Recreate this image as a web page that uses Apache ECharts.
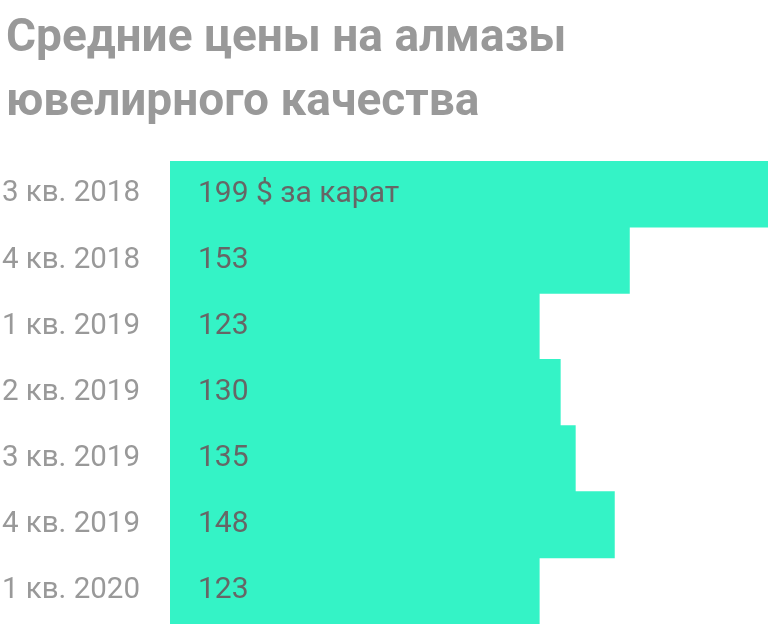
<!DOCTYPE html>
<html>
<head>
<meta charset="utf-8">
<script src="https://cdn.jsdelivr.net/npm/echarts@6/dist/echarts.min.js"></script>
<style>
  html, body { margin: 0; padding: 0; background: #fff; }
  #chart { width: 768px; height: 625px; }
</style>
</head>
<body>
<div id="chart"></div>
<script>
// данные
const quarters = ['3 кв. 2018', '4 кв. 2018', '1 кв. 2019', '2 кв. 2019', '3 кв. 2019', '4 кв. 2019', '1 кв. 2020'];
const prices = [199, 153, 123, 130, 135, 148, 123];
const unitSuffix = ' $ за карат';

const chart = echarts.init(document.getElementById('chart'));

const option = {
  animation: false,
  title: {
    text: 'Средние цены на алмазы\nювелирного качества',
    left: 1,
    top: 2,
    textStyle: {
      fontFamily: 'Roboto',
      fontSize: 46,
      fontWeight: 'bold',
      color: '#999999',
      lineHeight: 64
    }
  },
  grid: {
    left: 170,
    right: 0,
    top: 161,
    bottom: 1,
    outerBoundsMode: 'none',
    containLabel: false
  },
  xAxis: {
    type: 'value',
    min: 0,
    max: 199,
    show: false
  },
  yAxis: {
    type: 'category',
    data: quarters,
    inverse: true,
    axisLine: { show: false },
    axisTick: { show: false },
    axisLabel: {
      margin: 30,
      fontFamily: 'Roboto',
      fontSize: 29.5,
      color: '#999999'
    }
  },
  series: [
    {
      type: 'bar',
      data: prices,
      barWidth: 67,
      itemStyle: { color: '#34F3C6' },
      label: {
        show: true,
        position: 'insideLeft',
        distance: 28,
        fontFamily: 'Roboto',
        fontSize: 30,
        color: '#666666',
        formatter: p => p.dataIndex === 0 ? p.value + unitSuffix : String(p.value)
      }
    }
  ]
};

chart.setOption(option);

window.addEventListener('resize', () => {
  chart.resize();
});
</script>
</body>
</html>
